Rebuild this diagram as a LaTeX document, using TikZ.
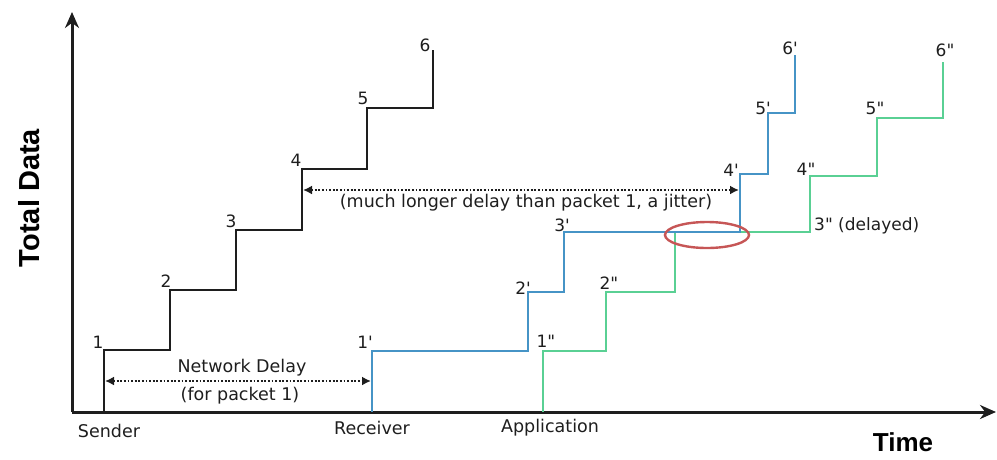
\documentclass[tikz,border=0pt]{standalone}
\usepackage{fontspec}
\setmainfont{DejaVu Sans}
\newfontfamily\headfont{Liberation Sans}
\usepackage{xcolor}
\usetikzlibrary{arrows.meta}
\definecolor{sendblack}{RGB}{30,30,30}
\definecolor{recvblue}{RGB}{70,148,198}
\definecolor{appgreen}{RGB}{90,208,148}
\definecolor{jitterred}{RGB}{198,86,86}

\begin{document}
\begin{tikzpicture}[x=1pt,y=-1pt,
    axis/.style={line width=3pt,draw=sendblack,-{Stealth[length=16pt,width=14pt]}},
    stairs/.style={line width=2.8pt},
    num/.style={inner sep=0pt,font=\fontsize{17}{20}\selectfont,text=sendblack},
    lbl/.style={inner sep=0pt,font=\fontsize{17.5}{20}\selectfont,text=sendblack},
    head/.style={inner sep=0pt,font=\headfont\bfseries\fontsize{29}{32}\selectfont},
    gap/.style={line width=2.6pt,draw=sendblack,dash pattern=on 1.8pt off 1.8pt,
        {Latex[length=9pt,width=9pt]}-{Latex[length=9pt,width=9pt]}}]
\useasboundingbox (0,0) rectangle (997,459);

% axes
\coordinate (o) at (72,412);
\coordinate (ytop) at (72,12);
\coordinate (xend) at (996,412);
\draw[axis] (o) -- (ytop);
\draw[axis] (o) -- (xend);
\node[head,rotate=90] (ylab) at (29,198) {Total Data};
\node[head,font=\headfont\bfseries\fontsize{26}{28}\selectfont] (xlab) at (903,442) {Time};

% sender
\draw[stairs,sendblack] (104,412) -- (104,350) -- (170,350) -- (170,290) -- (236,290)
    -- (236,230) -- (302,230) -- (302,169) -- (367,169) -- (367,108) -- (433,108) -- (433,50);
\path (98,342) node[num] (s1) {1}
      (166,281) node[num] (s2) {2}
      (231,221) node[num] (s3) {3}
      (296,160) node[num] (s4) {4}
      (363,98) node[num] (s5) {5}
      (425,45) node[num] (s6) {6};

% application (under the receiver line)
\draw[stairs,appgreen] (543,412) -- (543,351) -- (606,351) -- (606,292) -- (675,292)
    -- (675,232) -- (810,232) -- (810,176) -- (877,176) -- (877,118) -- (943,118) -- (943,62);
\path (546,341) node[num] (a1) {1\textquotedbl}
      (609,283) node[num] (a2) {2\textquotedbl}
      (814,226) node[num,anchor=west] (a3) {3\textquotedbl{} (delayed)}
      (806,169) node[num] (a4) {4\textquotedbl}
      (875,108) node[num] (a5) {5\textquotedbl}
      (945,50) node[num] (a6) {6\textquotedbl};

% receiver
\draw[stairs,recvblue] (372,412) -- (372,351) -- (528,351) -- (528,292) -- (564,292)
    -- (564,232) -- (740,232) -- (740,174) -- (768,174) -- (768,113) -- (795,113) -- (795,55);
\path (365,342) node[num] (r1) {1\textquotesingle}
      (523,288) node[num] (r2) {2\textquotesingle}
      (562,225) node[num] (r3) {3\textquotesingle}
      (731,170) node[num] (r4) {4\textquotesingle}
      (763,108) node[num] (r5) {5\textquotesingle}
      (790,48) node[num] (r6) {6\textquotesingle};

% jitter mark
\draw[jitterred,line width=2.4pt] (707,235) ellipse (42 and 13);

% delays
\coordinate (nd-a) at (105,381);
\coordinate (nd-b) at (371,381);
\draw[gap] (nd-a) -- (nd-b);
\node[lbl] (nd-top) at (242,368) {Network Delay};
\node[lbl] (nd-bot) at (240,396) {(for packet 1)};

\coordinate (jt-a) at (303,190);
\coordinate (jt-b) at (739,190);
\draw[gap] (jt-a) -- (jt-b);
\node[lbl] (jt-txt) at (526,203) {(much longer delay than packet 1, a jitter)};

% where each curve starts
\node[lbl] (snd) at (109,431) {Sender};
\node[lbl] (rcv) at (372,428) {Receiver};
\node[lbl] (app) at (550,428) {Application};
\end{tikzpicture}
\end{document}
